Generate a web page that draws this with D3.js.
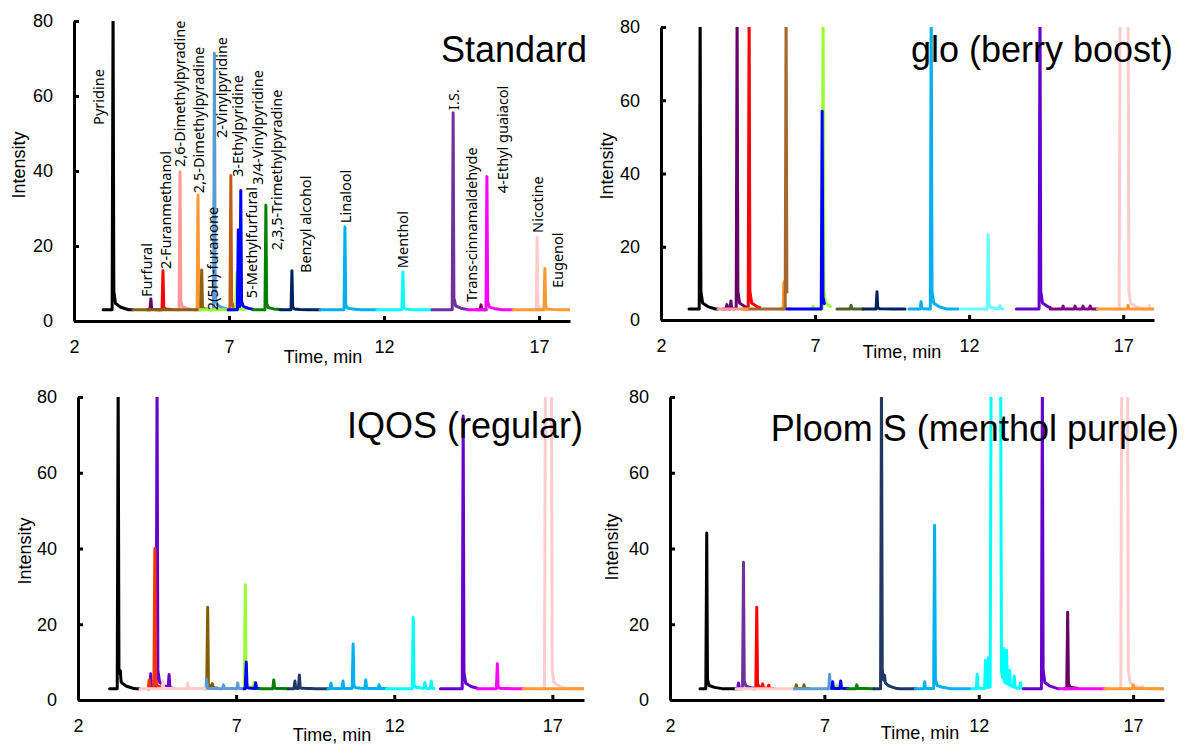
<!DOCTYPE html>
<html>
<head>
<meta charset="utf-8">
<script src="https://d3js.org/d3.v7.min.js"></script>
<style>
body { margin: 0; background: #fff; }
svg text { font-family: "Liberation Sans", Arial, sans-serif; fill: #000; }
.peaklab { font-family: "Noto Sans", sans-serif; font-size: 14.5px; }
.axis path, .axis line { stroke: #000; stroke-width: 3; }
.axis text { font-size: 18px; }
</style>
</head>
<body>
<svg width="1184" height="744"></svg>
<script>
// ---- data: each trace = [colour key, start min, end min, peaks [[time, height, flat top width]]]
var standardTraces = [
  ["pu", 4.35, 4.75, [[4.48, 5.9]]],
  ["r", 4.75, 5.15, [[4.87, 13.4]]],
  ["pk", 5.3, 5.75, [[5.42, 39.8]]],
  ["or", 5.85, 6.3, [[6.0, 33.6]]],
  ["sb", 6.35, 7.0, [[6.53, 71.4]]],
  ["ru", 6.95, 7.35, [[7.06, 38.8]]],
  ["dp", 15.0, 15.3, [[15.13, 4.3]]],
  ["lp", 16.8, 17.3, [[16.94, 22.3]]],
  ["k", 2.94, 3.9, [[3.26, 85]]],
  ["br", 3.9, 6.3, [[6.12, 13.6]]],
  ["lg", 6.06, 7.5, [[7.25, 13]]],
  ["bl", 6.97, 7.77, [[7.3, 24.3], [7.38, 34.4]]],
  ["gr", 7.77, 8.65, [[8.19, 30.9]]],
  ["nv", 8.65, 9.94, [[9.03, 13.4]]],
  ["lb", 9.94, 11.77, [[10.74, 25.1]]],
  ["cy", 11.77, 13.55, [[12.61, 13.1]]],
  ["is", 13.55, 14.71, [[14.23, 55.5]]],
  ["mg", 14.71, 16.16, [[15.32, 38.5]]],
  ["or", 16.16, 18.05, [[17.19, 14]]]
];
var gloTraces = [
  ["pu", 4.0, 4.8, [[4.14, 4.2], [4.27, 5.2], [4.47, 85]]],
  ["r", 4.7, 5.2, [[4.86, 85]]],
  ["or", 5.85, 6.2, [[5.99, 10.4]]],
  ["lg", 6.85, 7.5, [[6.94, 3.8], [7.26, 85]]],
  ["lp", 16.75, 17.95, [[16.9, 85, 0.26], [17.85, 4]]],
  ["k", 2.91, 3.85, [[3.27, 85]]],
  ["pk", 3.85, 4.63, []],
  ["or", 4.63, 4.89, []],
  ["br2", 4.89, 6.09, [[6.06, 85]]],
  ["bl", 6.09, 7.3, [[7.23, 57]]],
  ["og", 7.71, 8.56, [[8.17, 4]]],
  ["nv", 8.56, 9.92, [[9.01, 7.7]]],
  ["lb", 10.05, 11.64, [[10.44, 5], [10.77, 85]]],
  ["lc", 11.74, 13.1, [[12.62, 23.3], [13.0, 3.9]]],
  ["vi", 13.53, 14.63, [[14.3, 85]]],
  ["dm", 14.63, 16.16, [[15.05, 3.8], [15.44, 3.8], [15.7, 3.8], [15.93, 3.8]]],
  ["or", 16.16, 18.07, [[17.16, 4]]]
];
var iqosTraces = [
  ["vi", 4.2, 5.05, [[4.3, 6.9], [4.5, 85], [4.88, 6.4]]],
  ["ro", 4.2, 4.6, [[4.25, 5.3], [4.43, 40]]],
  ["ol", 6.0, 6.4, [[6.1, 24.5], [6.25, 4]]],
  ["lg", 7.2, 7.8, [[7.29, 30.4], [7.57, 4.5]]],
  ["lp", 16.7, 18.0, [[16.78, 85, 0.19]]],
  ["k", 3.0, 3.96, [[3.27, 85], [3.34, 5.5]]],
  ["lp", 3.96, 6.05, [[4.69, 5], [5.47, 4.5]]],
  ["sb", 6.05, 7.25, [[6.07, 5.5], [6.6, 4], [7.05, 4.5]]],
  ["bl", 7.25, 7.74, [[7.32, 10], [7.62, 4.5]]],
  ["gr", 7.74, 8.65, [[8.19, 5.3]]],
  ["nv2", 8.65, 9.9, [[8.86, 5], [9.0, 6.6]]],
  ["lb", 9.9, 11.75, [[10.0, 4.5], [10.38, 5], [10.7, 14.8], [11.1, 5.3], [11.52, 4]]],
  ["cy", 11.75, 13.26, [[12.6, 21.8], [12.97, 4.5], [13.17, 5]]],
  ["vi", 13.46, 14.63, [[14.18, 75]]],
  ["mg", 14.63, 16.07, [[15.26, 9.6]]],
  ["or", 16.07, 18.0, []]
];
var ploomTraces = [
  ["vi", 4.15, 4.35, [[4.22, 4.5]]],
  ["is", 4.25, 4.7, [[4.38, 36.4]]],
  ["r", 4.7, 5.35, [[4.81, 24.5], [5.0, 4], [5.2, 3.8]]],
  ["ol", 6.0, 6.5, [[6.09, 4], [6.34, 4]]],
  ["lg", 7.3, 7.6, [[7.4, 3.8]]],
  ["pu", 14.75, 15.2, [[14.88, 23.2]]],
  ["lp", 16.55, 18.0, [[16.63, 85, 0.19], [17.3, 3.6]]],
  ["k", 2.97, 4.14, [[3.19, 44.1]]],
  ["lp", 4.14, 6.03, []],
  ["sb", 6.03, 7.26, [[7.17, 6.8]]],
  ["bl", 7.24, 7.78, [[7.27, 4.8], [7.53, 5]]],
  ["gr", 7.75, 8.6, [[8.05, 4]]],
  ["nv2", 8.6, 9.95, [[8.85, 85], [8.95, 5]]],
  ["lb", 9.95, 11.73, [[10.25, 4.8], [10.57, 46.1]]],
  ["cy", 11.79, 13.5, [[11.95, 6.8], [12.22, 10.5], [12.31, 11], [12.4, 85, 0.31], [12.8, 12], [12.9, 12], [13.0, 7], [13.15, 6], [13.35, 4.5]]],
  ["vi", 13.45, 14.61, [[14.06, 85]]],
  ["mg", 14.61, 16.08, []],
  ["or", 16.08, 18.0, [[17.0, 4]]]
];
// peak names in the Standard run: [name, time, intensity where text starts]
var standardLabels = [
  ["Pyridine", 2.81, 52.3], ["Furfural", 4.35, 6.4], ["2-Furanmethanol", 4.97, 13.9],
  ["2,6-Dimethylpyradine", 5.42, 41.1], ["2,5-Dimethylpyradine", 6.03, 34.1],
  ["2(5H)-furanone", 6.48, 2.9], ["2-Vinylpyridine", 6.77, 48.8], ["3-Ethylpyridine", 7.29, 38.4],
  ["5-Methylfurfural", 7.74, 6.1], ["3/4-Vinylpyridine", 7.94, 36.3],
  ["2,3,5-Trimethylpyradine", 8.55, 18.9], ["Benzyl alcohol", 9.48, 12.8], ["Linalool", 10.77, 26.1],
  ["Menthol", 12.61, 14.1], ["I.S.", 14.26, 56.3], ["Trans-cinnamaldehyde", 14.84, 5.1],
  ["4-Ethyl guaiacol", 15.84, 34.1], ["Nicotine", 16.97, 23.5], ["Eugenol", 17.61, 8.8]
];
var titles = ["Standard", "glo (berry boost)", "IQOS (regular)", "Ploom S (menthol purple)"];
var xTicks = [2, 7, 12, 17];
var yTicks = [0, 20, 40, 60, 80];
var baseline = 3;

// ---- styles
var colors = {
  k: "#000000", pu: "#660066", r: "#FF0000", pk: "#FF9999", or: "#FF9933", br: "#8C5E14",
  lg: "#99FF33", sb: "#5B9BD5", ru: "#C55A11", bl: "#0000FF", gr: "#008000", nv: "#002060",
  lb: "#00B0F0", cy: "#00FFFF", is: "#7030A0", dp: "#7F0060", mg: "#FF00FF", lp: "#FFCCCC",
  br2: "#A5672E", og: "#4F6228", lc: "#66FFFF", vi: "#6600CC", dm: "#800080", ro: "#FF3300",
  ol: "#7F6000", nv2: "#203864"
};

var panels = [
  {traces: standardTraces, x0: 74, x1: 570, yb: 321, yt: 21, title: [587, 62], xlab: [323, 363], ylab: [19, 165]},
  {traces: gloTraces, x0: 661, x1: 1154, yb: 320, yt: 27, title: [1173, 62], xlab: [902, 358], ylab: [607, 166]},
  {traces: iqosTraces, x0: 78, x1: 584, yb: 700, yt: 397, title: [583, 438], xlab: [332, 741], ylab: [25, 551]},
  {traces: ploomTraces, x0: 670, x1: 1164, yb: 700, yt: 397, title: [1179, 441], xlab: [920, 739], ylab: [612, 547]}
];

// peak glyph: linear rise, flat top (overloaded peaks), short tailing decay
var tailK = [[0, 1], [0.025, 0.06], [0.08, 0.02], [0.25, 0.008], [0.5, 0]];
function peakVal(p, t) {
  var tp = p[0], d = p[1] - baseline, w = p[2] || 0;
  if (t <= tp - 0.03 || t >= tp + w + 0.5) return 0;
  if (t < tp) return d * (t - tp + 0.03) / 0.03;
  if (t <= tp + w) return d;
  var s = t - tp - w;
  for (var i = 1; i < tailK.length; i++) {
    if (s <= tailK[i][0]) {
      var a = tailK[i - 1], c = tailK[i];
      return d * (a[1] + (c[1] - a[1]) * (s - a[0]) / (c[0] - a[0]));
    }
  }
  return 0;
}
function tracePoints(tr) {
  var t0 = tr[1], t1 = tr[2], peaks = tr[3];
  var knots = [t0, t1];
  peaks.forEach(function(p) {
    var w = p[2] || 0;
    knots.push(p[0] - 0.03, p[0]);
    tailK.forEach(function(k) { knots.push(p[0] + w + k[0]); });
  });
  knots = knots.filter(function(t) { return t >= t0 && t <= t1; }).sort(d3.ascending);
  knots = knots.filter(function(t, i) { return i == 0 || t - knots[i - 1] > 1e-6; });
  return knots.map(function(t) {
    return [t, baseline + d3.sum(peaks, function(p) { return peakVal(p, t); })];
  });
}

var svg = d3.select("svg");

panels.forEach(function(P, pi) {
  var x = d3.scaleLinear().domain([2, 18]).range([P.x0, P.x1]);
  var y = d3.scaleLinear().domain([0, 80]).range([P.yb, P.yt]);
  var g = svg.append("g");

  g.append("clipPath").attr("id", "clip" + pi).append("rect")
    .attr("x", P.x0).attr("y", P.yt).attr("width", P.x1 - P.x0).attr("height", P.yb - P.yt);

  var line = d3.line().x(function(d) { return x(d[0]); }).y(function(d) { return y(d[1]); });
  g.append("g").attr("clip-path", "url(#clip" + pi + ")")
    .selectAll("path").data(P.traces).enter().append("path")
    .attr("d", function(d) { return line(tracePoints(d)); })
    .attr("fill", "none")
    .attr("stroke", function(d) { return colors[d[0]]; })
    .attr("stroke-width", 3)
    .attr("stroke-linejoin", "round")
    .attr("stroke-linecap", "round");

  g.append("g").attr("class", "axis").attr("transform", "translate(0," + P.yb + ")")
    .call(d3.axisBottom(x).tickValues(xTicks).tickSizeInner(-5).tickSizeOuter(0).tickPadding(19));
  g.append("g").attr("class", "axis").attr("transform", "translate(" + P.x0 + ",0)")
    .call(d3.axisLeft(y).tickValues(yTicks).tickSizeInner(-5).tickSizeOuter(0).tickPadding(21));
  g.selectAll(".axis").attr("font-family", null).attr("font-size", null);

  g.append("text").attr("x", P.title[0]).attr("y", P.title[1])
    .attr("text-anchor", "end").style("font-size", "36px").text(titles[pi]);
  g.append("text").attr("x", P.xlab[0]).attr("y", P.xlab[1])
    .attr("text-anchor", "middle").style("font-size", "18px").text("Time, min");
  g.append("text").attr("transform", "translate(" + P.ylab[0] + "," + P.ylab[1] + ") rotate(-90)")
    .attr("text-anchor", "middle").attr("dy", "0.35em").style("font-size", "18px").text("Intensity");

  if (pi == 0) {
    g.selectAll(".peaklab").data(standardLabels).enter().append("text")
      .attr("class", "peaklab")
      .attr("transform", function(d) { return "translate(" + x(d[1]) + "," + y(d[2]) + ") rotate(-90)"; })
      .attr("dy", "0.35em")
      .text(function(d) { return d[0]; });
  }
});
</script>
</body>
</html>
